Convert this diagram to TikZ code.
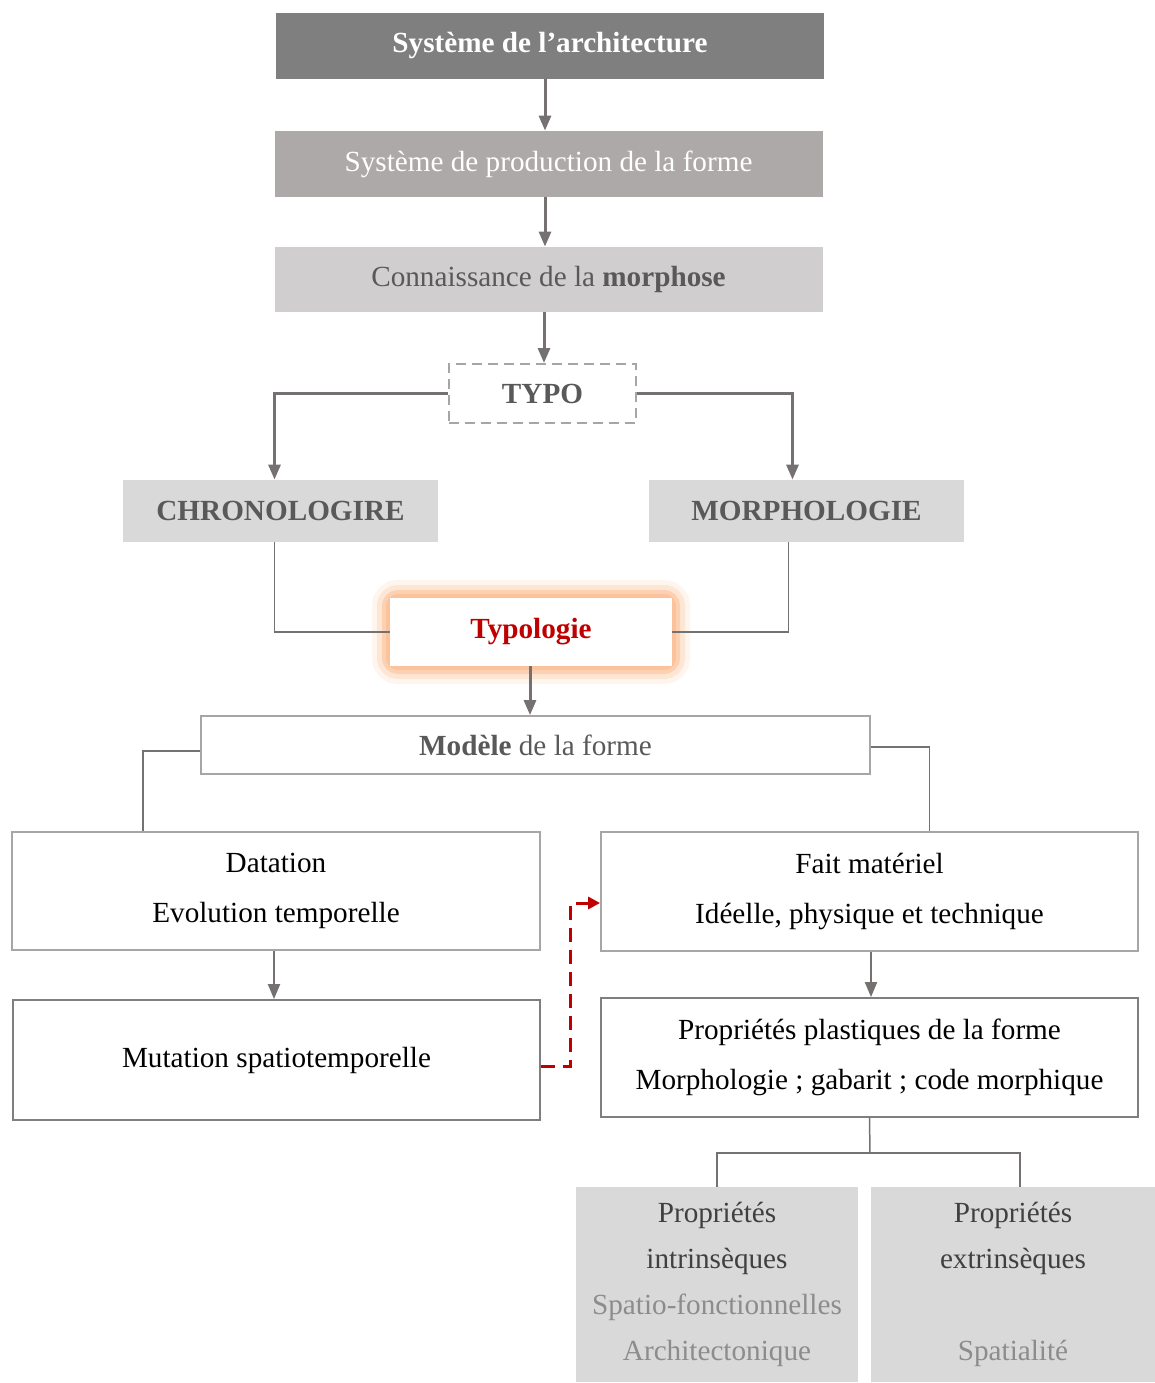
\documentclass[tikz,border=0pt]{standalone}
\usepackage{fontspec}
\setmainfont{Liberation Serif}
\usetikzlibrary{arrows.meta}

\definecolor{darkbox}{HTML}{7F7F7F}
\definecolor{midbox}{HTML}{ADA9A8}
\definecolor{lightbox}{HTML}{D0CECE}
\definecolor{palebox}{HTML}{D9D9D9}
\definecolor{textgray}{HTML}{595959}
\definecolor{linegray}{HTML}{767171}
\definecolor{edgegray}{HTML}{A6A6A6}
\definecolor{typored}{HTML}{C00000}
\definecolor{glow}{HTML}{FBB98A}

\tikzset{
    base/.style={inner sep=0pt, align=center, font=\fontsize{14.6}{18}\selectfont},
    darkfill/.style={base, fill=#1, minimum width=274pt, minimum height=33pt},
    headbox/.style={base, fill=palebox, text=textgray, font=\fontsize{14.6}{18}\selectfont\bfseries,
        minimum width=157.5pt, minimum height=31pt},
    framebox/.style={base, draw=edgegray, line width=0.9pt, fill=white,
        minimum width=266pt, minimum height=59pt, font=\fontsize{14.6}{25}\selectfont},
    propbox/.style={base, fill=palebox, text=black!75, minimum width=141pt, minimum height=97.5pt,
        font=\fontsize{14.6}{23}\selectfont},
    flow/.style={draw=linegray, line width=1.5pt, -{Triangle[width=6pt,length=7.5pt]}},
    link/.style={draw=linegray, line width=0.75pt},
}

\begin{document}
\begin{tikzpicture}[x=0.5pt, y=-0.5pt]
    \useasboundingbox (0,0) rectangle (1155,1383);

    % upper chain
    \node[darkfill=darkbox, text=white, font=\fontsize{14.6}{18}\selectfont\bfseries]
        (arch) at (550,45.5) {Système de l’architecture};
    \node[darkfill=midbox, text=white] (prod) at (548.5,164) {Système de production de la forme};
    \node[darkfill=lightbox, text=textgray, minimum height=32.5pt]
        (conn) at (548.5,279.5) {Connaissance de la \textbf{morphose}};
    \node[base, draw=edgegray, line width=1pt, dash pattern=on 5pt off 3pt, text=textgray,
        font=\fontsize{14.6}{18}\selectfont\bfseries, minimum width=93.5pt, minimum height=29.5pt]
        (typo) at (542.5,393.5) {TYPO};

    \node[headbox] (chrono) at (280.5,511) {CHRONOLOGIRE};
    \node[headbox] (morph) at (806.5,511) {MORPHOLOGIE};

    % glowing box
    \foreach \w/\o in {18/0.15, 13/0.25, 8/0.45, 4/0.6}
        \draw[glow, line width=\w pt, opacity=\o, rounded corners=4pt]
            (390,598) rectangle (672,666);
    \node[base, fill=white, text=typored, font=\fontsize{14.6}{18}\selectfont\bfseries,
        minimum width=141pt, minimum height=34pt] (typol) at (531,632) {Typologie};

    \node[base, draw=edgegray, line width=0.9pt, text=textgray, minimum width=334.5pt,
        minimum height=29pt] (modele) at (535.5,745) {\textbf{Modèle} de la forme};

    % lower boxes
    \node[framebox, minimum width=264pt] (datation) at (276,891) {Datation\\Evolution temporelle};
    \node[framebox, minimum width=268.5pt, minimum height=59.5pt]
        (fait) at (869.5,891.5) {Fait matériel\\Idéelle, physique et technique};
    \node[framebox, draw=darkbox, minimum width=263.5pt, minimum height=60pt]
        (mutation) at (276.5,1060) {Mutation spatiotemporelle};
    \node[framebox, draw=darkbox, minimum width=268.5pt, minimum height=59.5pt]
        (plast) at (869.5,1057.5) {Propriétés plastiques de la forme\\Morphologie ; gabarit ; code morphique};

    \node[propbox] (intr) at (717,1284.5)
        {Propriétés\\intrinsèques\\\textcolor{black!45}{Spatio-fonctionnelles}\\\textcolor{black!45}{Architectonique}};
    \node[propbox, minimum width=142pt] (extr) at (1013,1284.5)
        {Propriétés\\extrinsèques\\[23pt]\textcolor{black!45}{Spatialité}};

    % connectors
    \draw[flow] ([xshift=-2.5pt]arch.south) -- ([xshift=-2.5pt]arch.south |- prod.north);
    \draw[flow] ([xshift=-1.75pt]prod.south) -- ([xshift=-1.75pt]prod.south |- conn.north);
    \draw[flow] ([xshift=-2.25pt]conn.south) -- ([xshift=-2.25pt]conn.south |- typo.north);
    \draw[flow] (typo.west) -| ([xshift=-3pt]chrono.north);
    \draw[flow] (typo.east) -| ([xshift=-7pt]morph.north);
    \draw[link] ([xshift=-3pt]chrono.south) |- (typol.west);
    \draw[link] ([xshift=-9pt]morph.south) |- (typol.east);
    \draw[flow] ([xshift=-0.5pt]typol.south) -- ([xshift=-0.5pt]typol.south |- modele.north);
    \draw[link] ([yshift=-3pt]modele.west) -| ([xshift=-66.5pt]datation.north);
    \draw[link] ([yshift=-1pt]modele.east) -| ([xshift=30pt]fait.north);
    \draw[flow, line width=1pt] ([xshift=-1pt]datation.south) -- ([xshift=-1pt]datation.south |- mutation.north);
    \draw[flow, line width=1pt] ([xshift=0.75pt]fait.south) -- ([xshift=0.75pt]fait.south |- plast.north);
    \draw[typored, line width=1.5pt, dash pattern=on 7pt off 4pt,
        -{Triangle[width=6pt,length=6pt]}]
        ([yshift=-3pt]mutation.east) -- ++(15pt,0) |- ([yshift=-5.75pt]fait.west);

    \coordinate (split) at (870,1153);
    \draw[link] (plast.south) -- (split);
    \draw[link] (intr.north) |- (split) -| ([xshift=3.5pt]extr.north);
\end{tikzpicture}
\end{document}
